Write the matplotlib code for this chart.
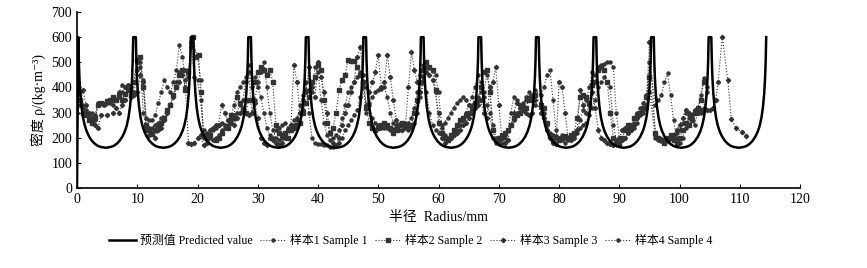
import numpy as np
import matplotlib
matplotlib.use("Agg")
import matplotlib.pyplot as plt

plt.rcParams['font.family'] = ['Liberation Serif', 'Noto Sans CJK SC', 'DejaVu Sans']

# predicted value: spike positions and the shape of one half period
spike_x = [0.0, 9.55, 19.1, 28.65, 38.2, 47.75, 57.3, 66.85, 76.4, 85.95, 95.5, 105.05, 114.6]
half_offset = [0.22, 0.3, 0.4, 0.55, 0.75, 1.0, 1.3, 1.6, 2.0, 2.5, 3.0, 3.5, 4.0]
half_value = [600, 510, 441, 377, 324, 281, 248, 226, 205, 187, 175, 167, 163]
min_value = 160

# samples (x in mm, density)
s1_x = [0, 0.5, 1, 1.5, 2, 2.5, 3, 3.5, 4, 5, 6, 7, 7.5, 8, 8.5, 9, 9.5,
        10, 10.5, 11, 11.5, 12, 12.5, 13, 13.5, 14, 15, 15.5, 16, 16.5, 17, 17.5, 18, 18.5, 19,
        20, 20.5, 21, 21.5, 22, 22.5, 23, 23.5, 24, 24.5, 25, 25.5, 26, 26.5, 27, 27.5, 28, 28.5,
        29, 29.5, 30, 30.5, 31, 31.5, 32, 32.5, 33, 33.5, 34, 34.5, 35, 35.5, 36, 36.5, 37, 37.5, 38,
        38.5, 39, 39.5, 40, 40.5, 41, 41.5, 42, 42.5, 43, 43.5, 44, 44.5, 45, 45.5, 46, 46.5, 47, 47.5,
        48, 48.5, 49, 49.5, 50, 50.5, 51, 51.5, 52, 52.5, 53, 53.5, 54, 54.5, 55, 55.5, 56, 56.5, 57,
        57.5, 58, 58.5, 59, 59.5, 60, 60.5, 61, 61.5, 62, 62.5, 63, 63.5, 64, 64.5, 65, 65.5, 66, 66.5,
        67, 67.5, 68, 68.5, 69, 69.5, 70, 70.5, 71, 71.5, 72, 72.5, 73, 73.5, 74, 74.5, 75, 75.5, 76,
        77, 77.5, 78, 78.5, 79, 79.5, 80, 80.5, 81, 81.5, 82, 82.5, 83, 83.5, 84, 84.5, 85, 85.5,
        86, 86.5, 87, 87.5, 88, 88.5, 89, 89.5, 90, 90.5, 91, 91.5, 92, 92.5, 93, 93.5, 94, 94.5, 95,
        96, 96.5, 97, 97.5, 98, 98.5, 99, 99.5, 100, 100.5, 101, 101.5, 102, 102.5, 103, 103.5, 104, 104.5]
s1_y = [420, 380, 330, 300, 280, 270, 290, 340, 340, 340, 350, 360, 380, 400, 410, 400, 380,
        470, 500, 430, 280, 240, 240, 250, 260, 280, 310, 330, 370, 420, 460, 470, 470, 440, 580,
        530, 430, 200, 190, 200, 190, 200, 210, 230, 250, 270, 280, 290, 300, 330, 350, 420, 460,
        300, 350, 420, 460, 500, 400, 300, 230, 200, 190, 200, 210, 230, 250, 270, 280, 300, 350, 420,
        300, 200, 180, 175, 175, 170, 170, 165, 165, 170, 180, 200, 230, 250, 270, 290, 310, 360, 420,
        400, 330, 280, 260, 250, 240, 240, 240, 230, 235, 240, 250, 250, 260, 260, 280, 320, 380, 450,
        490, 480, 476, 470, 450, 380, 250, 210, 200, 200, 210, 230, 250, 270, 300, 330, 360, 400, 450,
        420, 380, 450, 400, 250, 200, 190, 200, 210, 230, 250, 270, 300, 320, 340, 350, 360, 370, 390,
        370, 400, 450, 470, 350, 230, 200, 190, 180, 190, 200, 210, 230, 270, 310, 350, 400, 460,
        450, 480, 490, 495, 500, 500, 480, 300, 200, 190, 200, 220, 240, 260, 300, 320, 340, 370, 500,
        330, 350, 370, 420, 456, 370, 270, 200, 180, 200, 240, 280, 270, 250, 300, 370, 436, 400]

s2_x = [0, 0.5, 1, 1.5, 2, 2.5, 3, 3.5, 4, 4.5, 5, 5.5, 6, 6.5, 7, 7.5, 8, 8.5, 9, 9.5,
        10, 10.5, 11, 11.5, 12, 12.5, 13, 13.5, 14, 14.5, 15, 15.5, 16, 16.5, 17, 17.5, 18, 18.5, 19.3, 19.8,
        20.2, 20.5, 21, 21.5, 22, 23, 23.5, 24, 25, 25.5, 26, 26.5, 27, 27.5, 28, 28.5,
        29, 29.5, 30, 30.5, 31, 31.5, 32, 32.5, 33, 33.5, 34, 34.5, 35, 35.5, 36, 36.5, 37, 37.5, 38,
        38.5, 39, 39.5, 40, 40.5, 41, 41.5, 42, 42.5, 43, 43.5, 44, 44.5, 45, 45.5, 46, 46.5, 47, 47.5,
        48, 48.5, 49, 49.5, 50, 50.5, 51, 51.5, 52, 52.5, 53, 53.5, 54, 54.5, 55, 55.5, 56, 56.5, 57,
        57.5, 58, 58.5, 59, 59.5, 60, 60.5, 61, 61.5, 62, 62.5, 63, 63.5, 64, 64.5, 65, 65.5, 66, 66.5,
        67, 67.5, 68, 68.5, 69, 69.5, 70, 70.5, 71, 71.5, 72, 72.5, 73, 73.5, 74, 74.5, 75, 75.5, 76,
        77, 77.5, 78, 78.5, 79, 79.5, 80, 80.5, 81, 81.5, 82, 82.5, 83, 83.5, 84, 84.5, 85, 85.5,
        86, 86.5, 87, 87.5, 88, 88.5, 89, 89.5, 90, 90.5, 91, 91.5, 92, 92.5, 93, 93.5, 94, 94.5, 95,
        96, 96.5, 97, 97.5, 98, 98.5, 99, 99.5, 100, 100.5, 101, 101.5, 102, 102.5, 103, 103.5, 104]
s2_y = [400, 350, 300, 290, 270, 260, 280, 330, 340, 335, 345, 350, 360, 350, 370, 350, 375, 390, 370, 420,
        510, 520, 400, 250, 230, 215, 230, 250, 260, 280, 310, 330, 370, 400, 450, 470, 390, 460, 600, 520,
        530, 380, 210, 205, 210, 190, 200, 220, 240, 290, 280, 360, 340, 310, 300, 350,
        350, 420, 460, 480, 470, 450, 470, 420, 250, 220, 210, 220, 200, 230, 240, 250, 260, 300, 340,
        360, 420, 440, 490, 470, 350, 260, 220, 240, 300, 390, 430, 450, 510, 505, 505, 480, 450, 420,
        320, 260, 240, 230, 240, 250, 260, 250, 240, 220, 230, 250, 260, 250, 245, 250, 300, 350, 420,
        470, 500, 480, 470, 390, 260, 220, 200, 190, 210, 230, 250, 270, 280, 290, 300, 320, 340, 350,
        400, 460, 470, 380, 230, 190, 200, 210, 220, 230, 250, 280, 290, 300, 310, 320, 350, 360, 370,
        330, 320, 260, 210, 190, 200, 190, 200, 205, 200, 210, 220, 280, 360, 370, 360, 340, 410,
        420, 470, 480, 470, 420, 300, 200, 180, 175, 200, 230, 250, 250, 280, 290, 300, 320, 360, 440,
        220, 200, 190, 180, 200, 210, 190, 180, 200, 230, 260, 250, 270, 300, 320, 350, 420]

s3_x = [0, 0.5, 1, 1.5, 2, 2.5, 3, 3.5, 4, 5, 6, 6.5, 7, 7.5, 8, 9, 9.5,
        10, 10.5, 11, 11.5, 12, 12.5, 13, 13.5, 14, 14.5, 15, 15.5, 16, 16.5, 17, 17.5, 18, 18.5, 19, 19.5,
        20, 20.5, 21, 21.5, 22, 22.5, 23, 23.5, 24, 24.5, 25, 25.5, 26, 26.5, 27, 27.5, 28, 28.5,
        29, 29.5, 30, 30.5, 31, 31.5, 32, 32.5, 33, 33.5, 34, 34.5, 35, 35.5, 36, 36.5, 37, 37.5, 38,
        38.5, 39, 39.5, 40, 40.5, 41, 41.5, 42, 42.5, 43, 43.5, 44, 44.5, 45, 45.5, 46, 46.5, 47, 47.5,
        48, 48.5, 49, 49.5, 50, 50.5, 51, 51.5, 52, 52.5, 53, 53.5, 54, 54.5, 55, 55.5, 56, 56.5, 57,
        57.5, 58, 58.5, 59, 59.5, 60, 60.5, 61, 61.5, 62, 62.5, 63, 63.5, 64, 64.5, 65, 65.5, 66, 66.5,
        67, 67.5, 68, 68.5, 69, 69.5, 70, 70.5, 71, 71.5, 72, 72.5, 73, 73.5, 74, 74.5, 75, 75.5, 76,
        77, 77.5, 78, 78.5, 79, 79.5, 80, 80.5, 81, 81.5, 82, 82.5, 83, 83.5, 84, 84.5, 85, 85.5,
        86, 86.5, 87, 87.5, 88, 88.5, 89, 89.5, 90, 90.5, 91, 91.5, 92, 92.5, 93, 93.5, 94, 94.5, 95,
        96, 96.5, 97, 97.5, 98, 98.5, 99, 99.5, 100, 100.5, 101, 101.5, 102, 102.5, 103, 103.5, 104, 104.5,
        105, 105.5, 106, 106.4, 107.1, 108, 108.6, 109.4, 110.3, 111]
s3_y = [300, 330, 390, 330, 300, 280, 250, 240, 290, 290, 300, 320, 300, 330, 350, 360, 370,
        380, 450, 420, 230, 210, 220, 200, 230, 240, 270, 300, 330, 360, 400, 420, 450, 400, 180, 175, 180,
        200, 210, 170, 180, 230, 240, 250, 250, 330, 300, 270, 260, 250, 280, 300, 320, 300, 290,
        300, 340, 280, 200, 180, 170, 200, 190, 180, 170, 180, 200, 230, 250, 490, 420, 300, 310, 380,
        480, 400, 360, 500, 440, 380, 300, 220, 180, 170, 200, 250, 300, 330, 380, 420, 520, 560, 450,
        330, 380, 420, 460, 530, 400, 420, 530, 440, 350, 270, 230, 230, 250, 400, 540, 470, 420, 380,
        440, 460, 450, 430, 380, 300, 200, 180, 190, 200, 210, 220, 230, 250, 260, 280, 300, 320, 330,
        350, 300, 280, 400, 420, 480, 330, 200, 180, 190, 250, 300, 340, 330, 320, 300, 290, 300, 350,
        300, 280, 230, 200, 180, 175, 420, 400, 300, 200, 190, 200, 230, 390, 330, 300, 330, 380,
        320, 230, 200, 190, 180, 175, 170, 180, 200, 230, 240, 240, 230, 250, 280, 300, 310, 330, 580,
        210, 200, 195, 190, 185, 200, 210, 230, 250, 280, 310, 300, 290, 310, 297, 310, 310, 310,
        310, 320, 350, 423, 602, 430, 273, 237, 224, 207]

s4_x = [0, 0.5, 1, 1.5, 2, 2.5, 3, 3.5, 4.5, 5.5, 6, 7, 7.5, 8, 8.5, 9,
        10, 10.5, 11, 11.5, 12, 12.5, 13, 13.5, 14, 14.5, 15, 15.5, 16, 16.5, 17, 17.5, 18, 18.5, 19, 19.5,
        20, 20.5, 21, 21.5, 22, 22.5, 23, 23.5, 24, 24.5, 25, 25.5, 26, 26.5, 27, 27.5, 28, 28.5,
        29, 29.5, 30, 30.5, 31, 31.5, 32, 32.5, 33, 33.5, 34, 34.5, 35, 35.5, 36, 36.5, 37, 37.5, 38,
        38.5, 39, 39.5, 40, 40.5, 41, 41.5, 42, 42.5, 43, 43.5, 44, 44.5, 45, 45.5, 46, 46.5, 47, 47.5,
        48, 48.5, 49, 49.5, 50, 50.5, 51, 51.5, 52, 52.5, 53, 53.5, 54, 54.5, 55, 55.5, 56, 56.5, 57,
        57.5, 58, 58.5, 59, 59.5, 60, 60.5, 61, 61.5, 62, 62.5, 63, 63.5, 64, 64.5, 65, 65.5, 66, 66.5,
        67, 67.5, 68, 68.5, 69, 69.5, 70, 70.5, 71, 71.5, 72, 72.5, 73, 73.5, 74, 74.5, 75, 75.5, 76,
        77, 77.5, 78, 78.5, 79, 79.5, 80, 80.5, 81, 81.5, 82, 82.5, 83, 83.5, 84, 84.5, 85, 85.5,
        86, 86.5, 87, 87.5, 88, 88.5, 89, 89.5, 90, 90.5, 91, 91.5, 92, 92.5, 93, 93.5, 94, 94.5, 95,
        96, 96.5, 97, 97.5, 98, 98.5, 99, 99.5, 100, 100.5, 101, 101.5, 102, 102.5, 103, 103.5, 104, 104.5]
s4_y = [450, 350, 320, 310, 290, 300, 270, 340, 330, 340, 330, 380, 410, 400, 410, 390,
        500, 480, 300, 240, 270, 270, 290, 340, 380, 430, 400, 380, 420, 470, 570, 520, 430, 470, 560, 440,
        430, 350, 230, 220, 210, 230, 240, 250, 260, 240, 250, 270, 330, 380, 400, 420, 440, 490,
        400, 440, 400, 360, 300, 240, 210, 200, 230, 240, 250, 260, 240, 230, 250, 270, 330, 370, 390,
        390, 380, 480, 460, 350, 260, 210, 190, 200, 210, 230, 280, 330, 380, 400, 420, 440, 460, 400,
        300, 340, 360, 380, 390, 395, 400, 360, 300, 260, 250, 255, 260, 240, 230, 240, 260, 300, 360,
        420, 380, 300, 250, 230, 220, 240, 260, 280, 300, 320, 340, 350, 360, 350, 330, 330, 340, 360,
        380, 360, 330, 300, 200, 180, 175, 180, 200, 230, 300, 360, 350, 320, 330, 360, 380, 350, 330,
        320, 300, 250, 220, 210, 205, 200, 210, 200, 195, 200, 210, 220, 240, 250, 260, 290, 320,
        350, 400, 420, 440, 420, 400, 250, 190, 180, 190, 200, 220, 230, 240, 260, 290, 300, 320, 380,
        200, 190, 185, 180, 190, 200, 210, 220, 230, 260, 300, 290, 280, 300, 310, 300, 320, 380]

x_ticks = list(range(0, 121, 10))
y_ticks = list(range(0, 701, 100))


def build_predicted():
    xs = [0.0]
    ys = [0]
    off = np.array(half_offset)
    val = np.array(half_value)
    for a, b in zip(spike_x[:-1], spike_x[1:]):
        xs += list(a + off)
        ys += list(val)
        xs.append((a + b) / 2)
        ys.append(min_value)
        xs += list(b - off[::-1])
        ys += list(val[::-1])
    return np.array(xs), np.array(ys)


def main():
    fig = plt.figure(figsize=(8.67, 2.68), dpi=100)
    ax = fig.add_axes([0.0888, 0.2985, 0.834, 0.6567])

    px, py = build_predicted()
    ax.plot(px, py, color='black', lw=1.8, label='预测值 Predicted value', zorder=5)

    style = dict(color='#333333', ls=':', lw=0.8, ms=2.2, zorder=3)
    ax.plot(s1_x, s1_y, marker='o', label='样本1 Sample 1', **style)
    ax.plot(s2_x, s2_y, marker='s', label='样本2 Sample 2', **style)
    ax.plot(s3_x, s3_y, marker='D', label='样本3 Sample 3', **style)
    ax.plot(s4_x, s4_y, marker='o', label='样本4 Sample 4', **style)

    ax.set_xlim(0, 120)
    ax.set_ylim(0, 700)
    ax.set_xticks(x_ticks)
    ax.set_yticks(y_ticks)
    ax.tick_params(direction='in', length=3, labelsize=10, width=0.8)
    for s in ['top', 'right']:
        ax.spines[s].set_visible(False)
    ax.spines['left'].set_linewidth(1.2)
    ax.spines['bottom'].set_linewidth(1.2)

    ax.set_xlabel('半径  Radius/mm', fontsize=10, labelpad=4)
    ax.set_ylabel('密度 ρ/(kg·m⁻³)', fontsize=10, labelpad=4)

    ax.legend(loc='center', bbox_to_anchor=(0.462, -0.30), ncol=5, frameon=False,
              fontsize=8.6, handlelength=2.2, columnspacing=0.6, handletextpad=0.35)

    fig.savefig('out.png', dpi=100)


if __name__ == "__main__":
    main()
